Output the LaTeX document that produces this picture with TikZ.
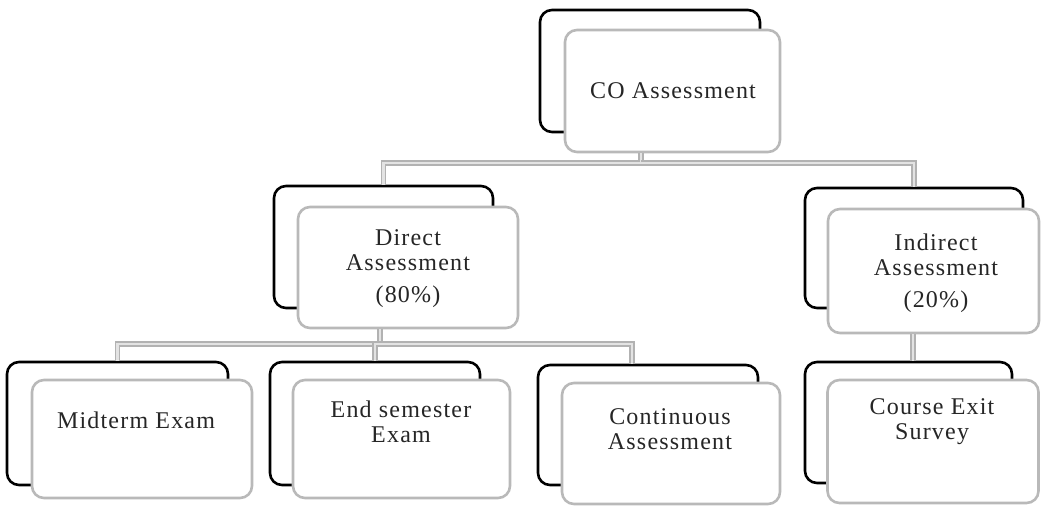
\documentclass[tikz,border=0pt]{standalone}
\usepackage{fontspec}
\setmainfont{Liberation Serif}[LetterSpace=5]
\begin{document}
\begin{tikzpicture}[x=1pt,y=-1pt,
  backbox/.style={draw=black, line width=2.6pt, rounded corners=12pt, fill=white, inner sep=0pt},
  frontbox/.style={draw=gray!55, line width=2.6pt, rounded corners=12pt, fill=white, inner sep=0pt},
  lbl/.style={align=center, font=\fontsize{24}{25}\selectfont, text=black!85, inner sep=0pt},
  conn/.style={draw=gray!60, line width=1.4pt, double=gray!22, double distance=2.4pt}]
\useasboundingbox (0,0) rectangle (1041,506);
% CO Assessment
\node[backbox, minimum width=220pt, minimum height=122pt] (cob) at (650,71) {};
\node[frontbox, minimum width=215pt, minimum height=122pt] (cof) at (672.5,91) {};
\node[lbl] (cot) at (673,91) {CO Assessment};
% Direct
\node[backbox, minimum width=219pt, minimum height=122pt] (dirb) at (383.5,247) {};
\node[frontbox, minimum width=220pt, minimum height=121pt] (dirf) at (408,267.5) {};
\node[lbl] (dirt) at (408,269) {Direct\\Assessment\\[7pt](80\%)};
% Indirect
\node[backbox, minimum width=218pt, minimum height=120pt] (indb) at (914,248) {};
\node[frontbox, minimum width=211pt, minimum height=124pt] (indf) at (933.5,271) {};
\node[lbl] (indt) at (936,273) {Indirect\\Assessment\\[7pt](20\%)};
% Midterm
\node[backbox, minimum width=221pt, minimum height=123pt] (midb) at (117.5,423.5) {};
\node[frontbox, minimum width=220pt, minimum height=118pt] (midf) at (142,439) {};
\node[lbl] (midt) at (136,420) {Midterm Exam};
% End semester
\node[backbox, minimum width=210pt, minimum height=123pt] (endb) at (375,423.5) {};
\node[frontbox, minimum width=217pt, minimum height=118pt] (endf) at (401.5,439) {};
\node[lbl] (endt) at (401,422) {End semester\\Exam};
% Continuous
\node[backbox, minimum width=220pt, minimum height=120pt] (conb) at (648,425) {};
\node[frontbox, minimum width=218pt, minimum height=121pt] (conf) at (671,443.5) {};
\node[lbl] (cont) at (670,429) {Continuous\\Assessment};
% Course exit
\node[backbox, minimum width=207pt, minimum height=121pt] (crsb) at (908.5,422.5) {};
\node[frontbox, minimum width=211pt, minimum height=123pt] (crsf) at (933,441.5) {};
\node[lbl] (crst) at (932,422) {Course Exit\\Survey};
% connectors
\coordinate (j1) at (641,163);
\coordinate (j2) at (380,344);
\coordinate (j3) at (913,333);
\draw[conn] (j1 |- cof.south) -- (j1) -| (dirb.north);
\draw[conn] (j1) -| (indb.north);
\draw[conn] (j2 |- dirf.south) -- (j2) -| (midb.north);
\draw[conn] (j2) -| (endb.north);
\draw[conn] (j2) -| ([xshift=-16pt]conb.north);
\draw[conn] (j3 |- indf.south) -- (j3 |- crsb.north);
\end{tikzpicture}
\end{document}
